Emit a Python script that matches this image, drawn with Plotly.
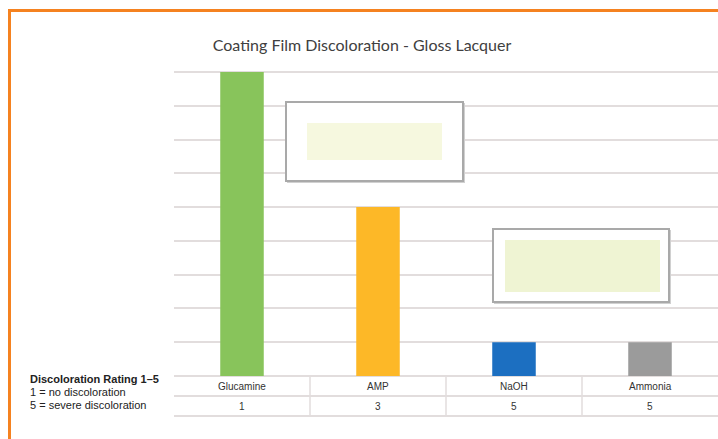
import plotly.graph_objects as go

# ---- data ----
categories = ["Glucamine", "AMP", "NaOH", "Ammonia"]
bar_values = [9, 5, 1, 1]
ratings = ["1", "3", "5", "5"]
bar_colors = ["#88C45B", "#FDB827", "#1C6FC1", "#9B9B9B"]
title_text = "Coating Film Discoloration - Gloss Lacquer"
legend_lines = ["<b>Discoloration Rating 1–5</b>", "1 = no discoloration", "5 = severe discoloration"]

W, H = 718, 439
L, R, T, B = 174, 718, 70, 376  # plot area in pixels
TOP_GRID = 72  # pixel row of value 9
y_top = 9 * (B - T) / (B - TOP_GRID)


def px(x):
    return (x - L) / (R - L)


def py(y):
    return (B - y) / (B - T)


fig = go.Figure(go.Bar(
    x=categories, y=bar_values, marker=dict(color=bar_colors, line=dict(width=0)),
    hoverinfo="x+y",
))

grid = "#E2DDDD"
fig.update_layout(
    width=W, height=H,
    margin=dict(l=L, r=W - R, t=T, b=H - B, pad=0),
    paper_bgcolor="white", plot_bgcolor="white",
    bargap=0.68, showlegend=False,
    title=dict(text=title_text, x=362 / W, xanchor="center", y=1 - 45 / H, yanchor="middle",
               font=dict(family="Lato, Open Sans, sans-serif", size=16, color="#404040")),
    xaxis=dict(range=[-0.5, 3.5], showticklabels=False, showgrid=False, zeroline=False,
               showline=False, ticks=""),
    yaxis=dict(range=[0, y_top], tick0=0, dtick=1, showticklabels=False, showgrid=True,
               gridcolor=grid, gridwidth=2, zeroline=True, zerolinecolor=grid, zerolinewidth=2,
               showline=False, ticks=""),
)

shapes = []
# orange frame
orange = "#F58220"
shapes.append(dict(type="line", xref="paper", yref="paper", x0=px(9.5), x1=px(9.5),
                   y0=py(9), y1=py(460), line=dict(color=orange, width=3)))
shapes.append(dict(type="line", xref="paper", yref="paper", x0=px(8), x1=px(740),
                   y0=py(10.5), y1=py(10.5), line=dict(color=orange, width=3)))

# table lines
for yy in (396, 416):
    shapes.append(dict(type="line", xref="paper", yref="paper", x0=0, x1=1,
                       y0=py(yy), y1=py(yy), line=dict(color=grid, width=2)))
for i in range(len(categories) - 1):
    shapes.append(dict(type="line", xref="x", yref="paper", x0=i + 0.5, x1=i + 0.5,
                       y0=py(376), y1=py(416), line=dict(color=grid, width=1.5)))

# swatch boxes (shadow, frame, inner colour)
def swatch(ox0, oy0, ox1, oy1, ix0, iy0, ix1, iy1, fill):
    shapes.append(dict(type="rect", xref="paper", yref="paper",
                       x0=px(ox0 + 1), x1=px(ox1 + 2), y0=py(oy1 + 2), y1=py(oy0 + 1),
                       line=dict(width=0), fillcolor="#D0D0D0", layer="above"))
    shapes.append(dict(type="rect", xref="paper", yref="paper",
                       x0=px(ox0), x1=px(ox1), y0=py(oy1), y1=py(oy0),
                       line=dict(color="#A9A9A9", width=2), fillcolor="white", layer="above"))
    shapes.append(dict(type="rect", xref="paper", yref="paper",
                       x0=px(ix0), x1=px(ix1), y0=py(iy1), y1=py(iy0),
                       line=dict(width=0), fillcolor=fill, layer="above"))


swatch(286, 102, 463, 181, 307, 123, 442, 160, "#F6F8DF")
swatch(493, 229, 669, 302, 505, 240, 660, 292, "#EFF4D3")

annotations = []
small = dict(family="Liberation Sans, Arial, sans-serif", size=10, color="#333333")
for i, (c, r) in enumerate(zip(categories, ratings)):
    annotations.append(dict(x=i, xref="x", y=py(386), yref="paper", text=c, showarrow=False,
                            xanchor="center", yanchor="middle", font=small))
    annotations.append(dict(x=i, xref="x", y=py(406), yref="paper", text=r, showarrow=False,
                            xanchor="center", yanchor="middle", font=small))

for yy, t in zip((379, 392, 405), legend_lines):
    annotations.append(dict(x=px(28), xref="paper", y=py(yy), yref="paper", text=t,
                            showarrow=False, xanchor="left", yanchor="middle",
                            font=dict(family="Liberation Sans Narrow, Arial Narrow, Liberation Sans, sans-serif",
                                      size=11, color="#222222")))

fig.update_layout(shapes=shapes, annotations=annotations)
fig.write_html("out.html")
